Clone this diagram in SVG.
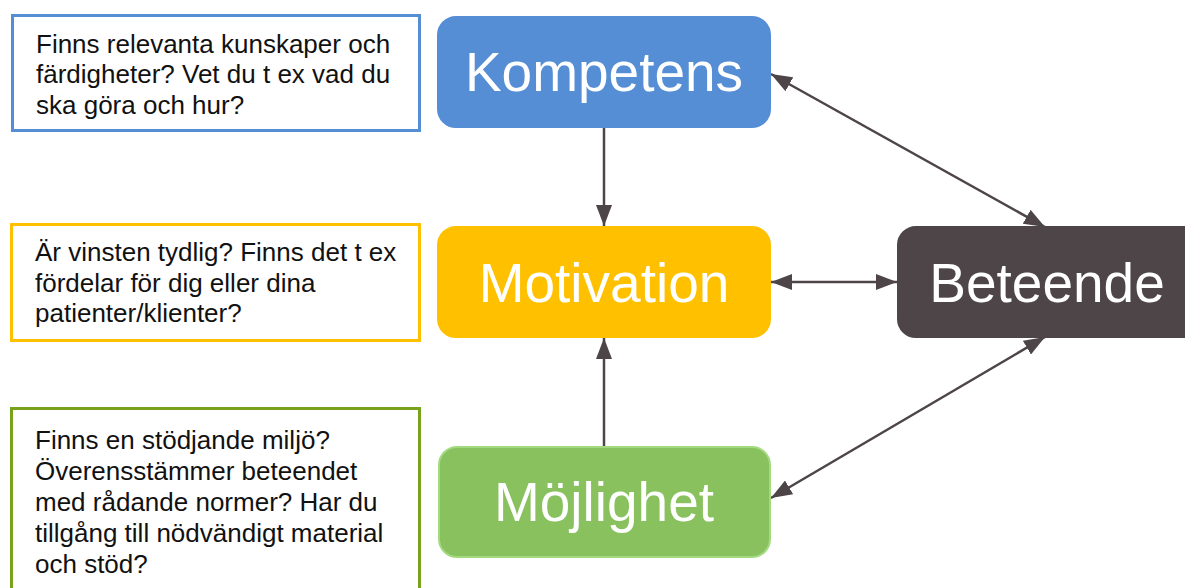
<svg xmlns="http://www.w3.org/2000/svg" width="1185" height="588" viewBox="0 0 1185 588">
<style>
.q{fill:#fff;stroke-width:3}
.qt{font-family:"Liberation Sans",Arial,sans-serif;font-size:26px;fill:#111}
.n{stroke-width:2}
.nt{font-family:"Liberation Sans",Arial,sans-serif;font-size:55px;fill:#fff;text-anchor:middle}
.c{stroke:#4D4548;stroke-width:2.5;fill:none;marker-end:url(#ah)}
.b{marker-start:url(#ah)}
</style>
<defs>
<marker id="ah" viewBox="0 0 10 10" refX="10" refY="5" markerWidth="8.4" markerHeight="6.4" orient="auto-start-reverse" markerUnits="strokeWidth" preserveAspectRatio="none">
<path d="M0,0 L10,5 L0,10 z" fill="#4D4548"/>
</marker>
</defs>
<rect width="1185" height="588" fill="#fff"/>
<g id="q1">
<rect class="q" x="12.5" y="15.5" width="407" height="115" stroke="#558ED5"/>
<text class="qt"><tspan x="36" y="53">Finns relevanta kunskaper och</tspan><tspan x="36" y="83">färdigheter? Vet du t ex vad du</tspan><tspan x="36" y="114">ska göra och hur?</tspan></text>
</g>
<g id="q2">
<rect class="q" x="11.5" y="224.5" width="408" height="116" stroke="#FFC000"/>
<text class="qt"><tspan x="35" y="261">Är vinsten tydlig? Finns det t ex</tspan><tspan x="35" y="292">fördelar för dig eller dina</tspan><tspan x="35" y="322">patienter/klienter?</tspan></text>
</g>
<g id="q3">
<rect class="q" x="11.5" y="408.5" width="408" height="190" stroke="#77A21A"/>
<text class="qt"><tspan x="35" y="449">Finns en stödjande miljö?</tspan><tspan x="35" y="480">Överensstämmer beteendet</tspan><tspan x="35" y="511">med rådande normer? Har du</tspan><tspan x="35" y="542">tillgång till nödvändigt material</tspan><tspan x="35" y="573">och stöd?</tspan></text>
</g>
<g id="connectors">
<line class="c" x1="604" y1="128" x2="604" y2="226"/>
<line class="c" x1="604" y1="447" x2="604" y2="338"/>
<line class="c b" x1="771" y1="282" x2="897" y2="282"/>
<line class="c b" x1="771" y1="74" x2="1045" y2="227"/>
<line class="c b" x1="771" y1="498" x2="1045" y2="337"/>
</g>
<g id="kompetens">
<rect class="n" x="438" y="17" width="332" height="110" rx="18" fill="#558ED5" stroke="#558ED5"/>
<text class="nt" x="604" y="91">Kompetens</text>
</g>
<g id="motivation">
<rect class="n" x="438" y="227" width="332" height="110" rx="18" fill="#FFC000" stroke="#FFC000"/>
<text class="nt" x="604" y="302">Motivation</text>
</g>
<g id="mojlighet">
<rect class="n" x="439" y="447" width="331" height="110" rx="18" fill="#88C15E" stroke="#A3D97F"/>
<text class="nt" x="604" y="521">Möjlighet</text>
</g>
<g id="beteende">
<rect class="n" x="898" y="227" width="310" height="110" rx="18" fill="#4D4548" stroke="#4D4548"/>
<text class="nt" x="1047" y="302">Beteende</text>
</g>
</svg>
